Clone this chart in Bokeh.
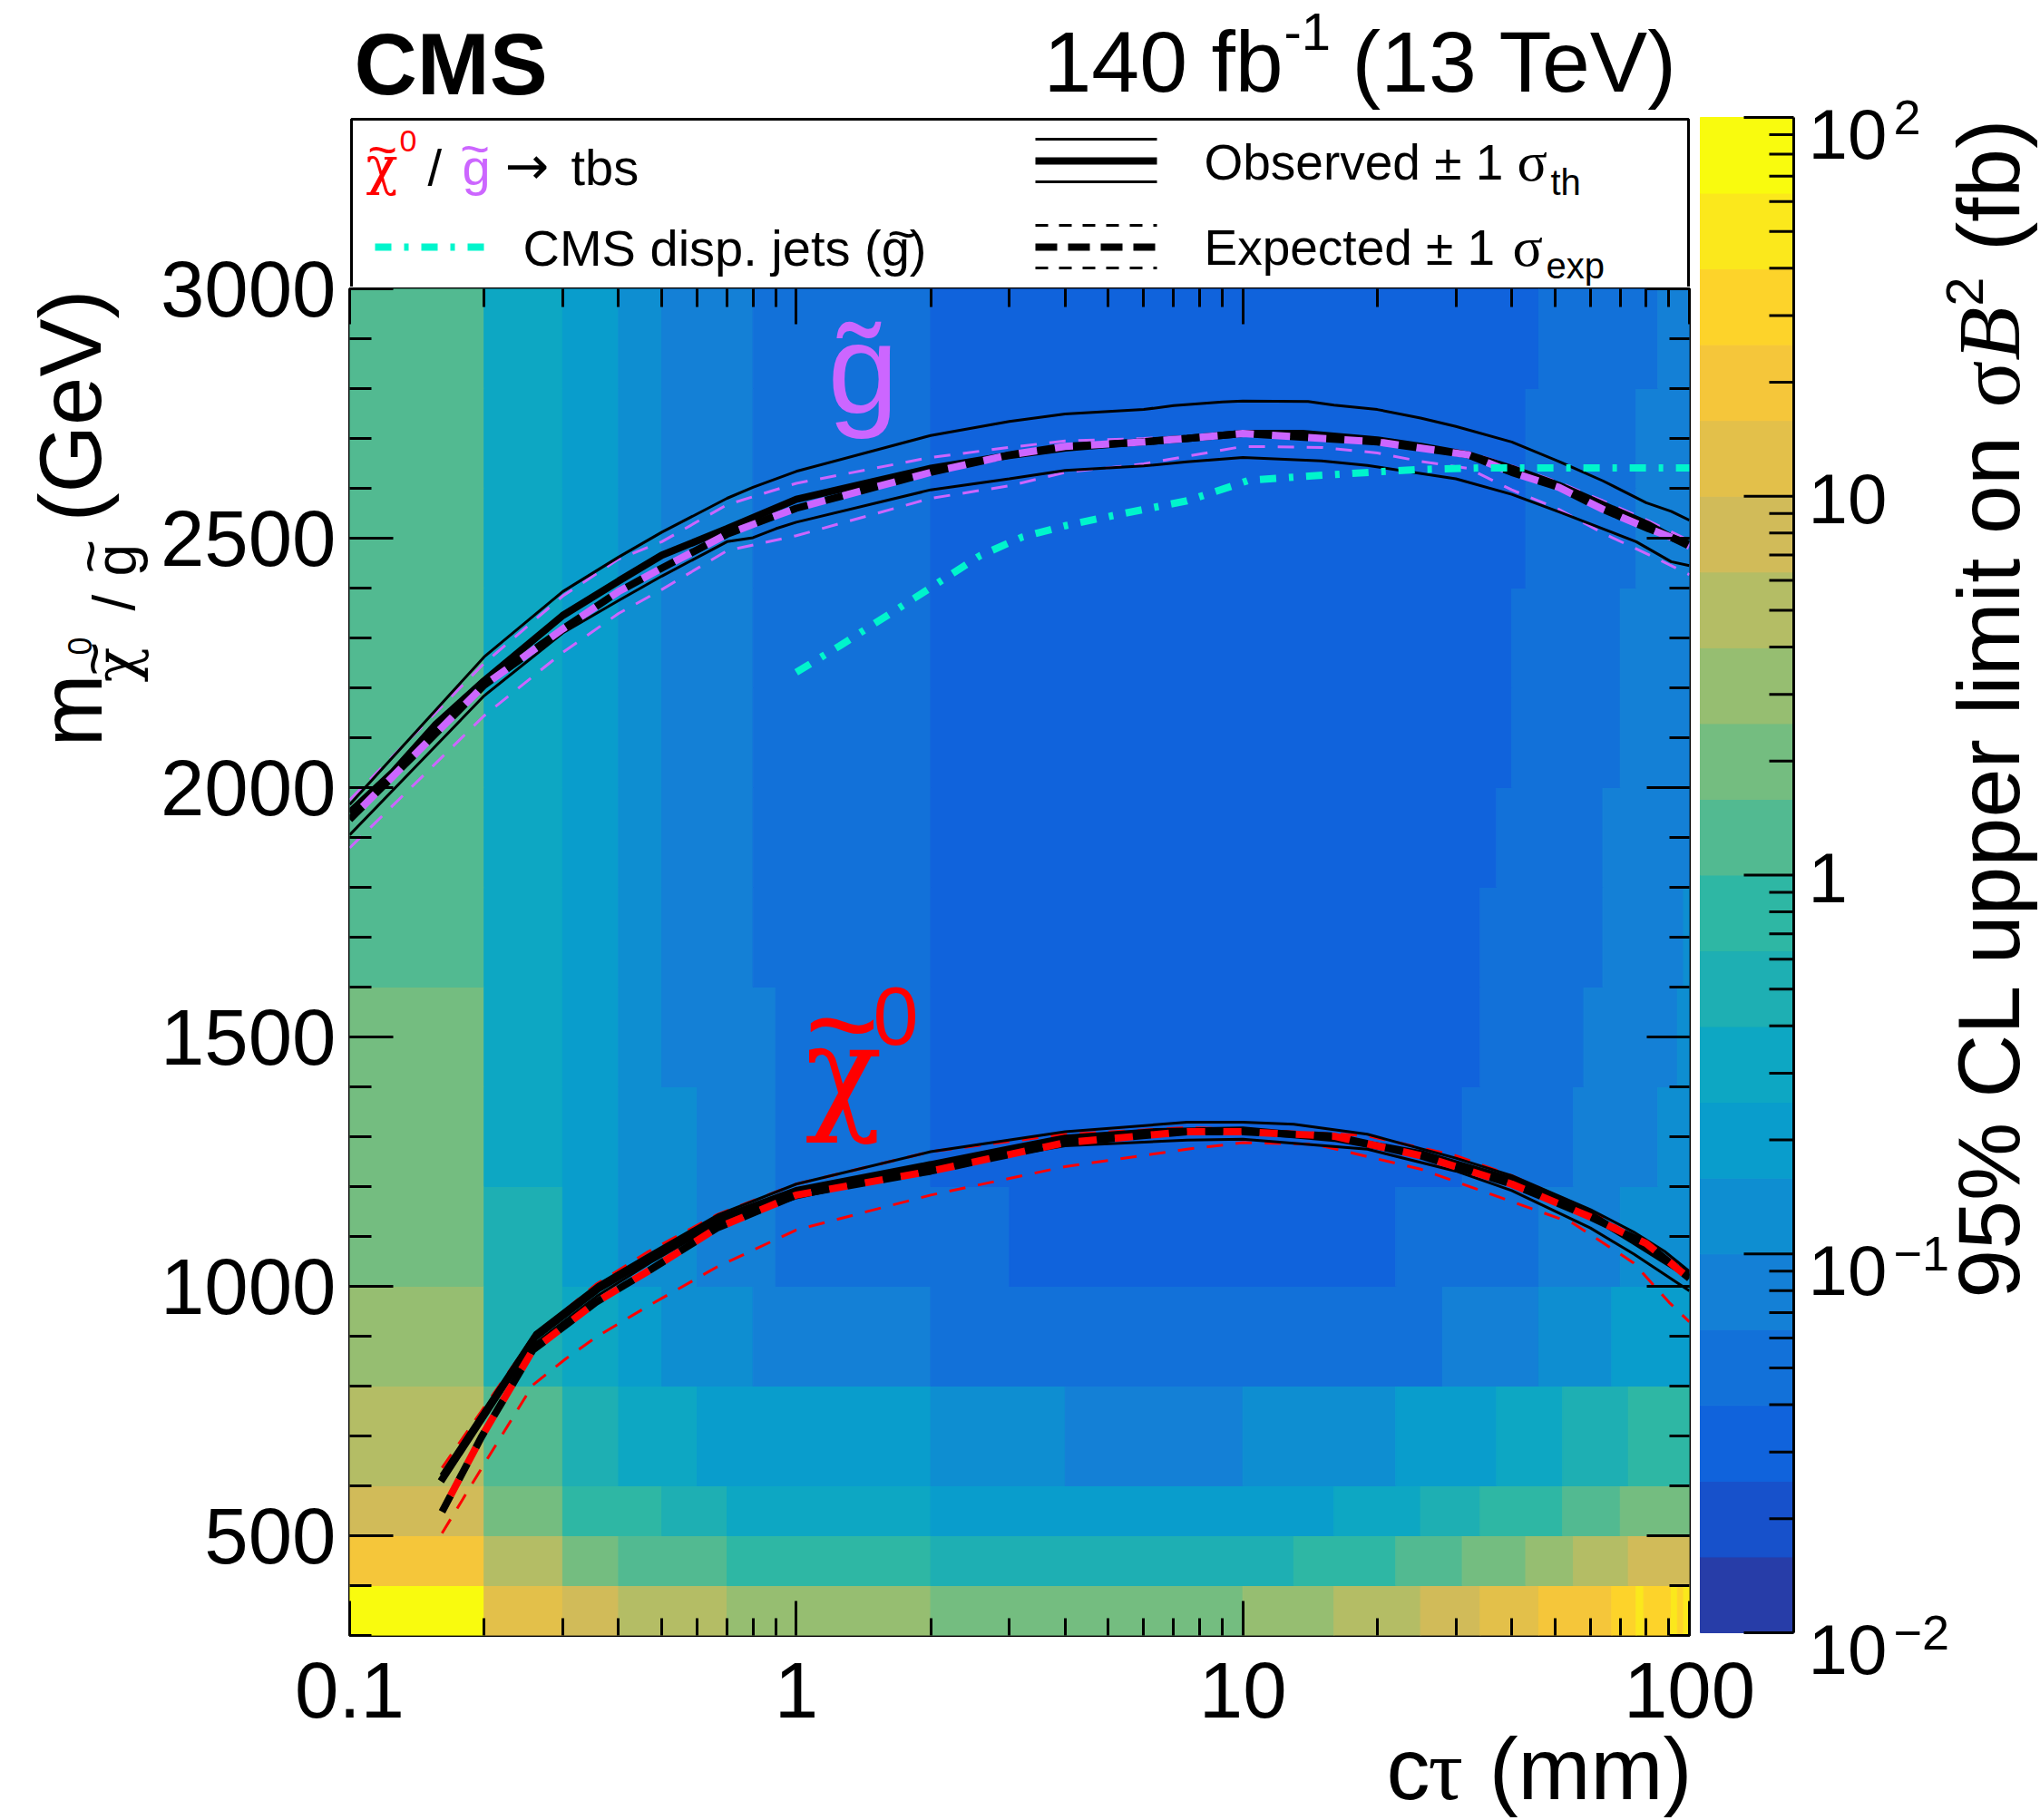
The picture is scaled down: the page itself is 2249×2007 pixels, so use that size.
import math
from bokeh.plotting import figure
from bokeh.models import (Range1d, Label, FixedTicker, SingleIntervalTicker, LinearAxis, LogAxis,
                          ColumnDataSource, LogScale)
from bokeh.layouts import row, column
from bokeh.transform import log_cmap
from bokeh.embed import file_html
from bokeh.resources import INLINE

# ---------------------------------------------------------------- data
mass_edges = [300, 400, 500, 600, 800, 1000, 1200, 1400, 1600, 1800, 2000, 2200, 2400, 2600, 2800, 3000]

# ctau segment boundaries (mm) for each mass row, bottom to top
ctau_breaks = [
    [0.1, 0.2, 0.3, 0.4, 0.7, 2, 10, 16, 25, 34, 46, 67, 76, 79, 91, 94, 97, 100],
    [0.1, 0.2, 0.3, 0.4, 0.7, 2, 13, 22, 31, 43, 55, 73, 100],
    [0.1, 0.2, 0.3, 0.5, 0.7, 2, 16, 25, 34, 52, 70, 100],
    [0.1, 0.2, 0.3, 0.4, 0.6, 2, 4, 10, 22, 37, 52, 73, 100],
    [0.1, 0.2, 0.3, 0.4, 0.5, 0.8, 2, 28, 46, 67, 100],
    [0.1, 0.2, 0.3, 0.4, 0.6, 0.9, 3, 22, 46, 70, 100],
    [0.1, 0.2, 0.3, 0.4, 0.6, 0.9, 2, 31, 55, 85, 100],
    [0.1, 0.2, 0.3, 0.4, 0.5, 0.9, 2, 34, 58, 94, 100],
    [0.1, 0.2, 0.3, 0.4, 0.5, 0.8, 2, 34, 64, 97, 100],
    [0.1, 0.2, 0.3, 0.4, 0.5, 0.8, 2, 37, 64, 100],
    [0.1, 0.2, 0.3, 0.4, 0.5, 0.8, 2, 40, 70, 100],
    [0.1, 0.2, 0.3, 0.4, 0.5, 0.8, 2, 40, 70, 100],
    [0.1, 0.2, 0.3, 0.4, 0.5, 0.8, 2, 43, 76, 100],
    [0.1, 0.2, 0.3, 0.4, 0.5, 0.8, 2, 43, 76, 100],
    [0.1, 0.2, 0.3, 0.4, 0.5, 0.8, 2, 46, 85, 100],
]
# 95% CL upper limit on sigma*B^2 (fb) in each segment
limits_fb = [
    [79, 13, 7.9, 5.0, 3.2, 2.0, 3.2, 5.0, 7.9, 13, 20, 32, 50, 32, 50, 32, 50],
    [20, 5.0, 2.0, 1.3, 0.79, 0.50, 0.79, 1.3, 2.0, 3.2, 5.0, 7.9],
    [7.9, 2.0, 0.79, 0.50, 0.32, 0.20, 0.32, 0.50, 0.79, 1.3, 2.0],
    [5.0, 1.3, 0.50, 0.32, 0.20, 0.13, 0.079, 0.13, 0.20, 0.32, 0.50, 0.79],
    [3.2, 0.50, 0.32, 0.20, 0.13, 0.079, 0.050, 0.079, 0.13, 0.20],
    [2.0, 0.50, 0.20, 0.13, 0.079, 0.050, 0.032, 0.050, 0.079, 0.13],
    [2.0, 0.32, 0.20, 0.13, 0.079, 0.050, 0.032, 0.050, 0.079, 0.13],
    [2.0, 0.32, 0.20, 0.13, 0.079, 0.050, 0.032, 0.050, 0.079, 0.13],
    [1.3, 0.32, 0.20, 0.13, 0.079, 0.050, 0.032, 0.050, 0.079, 0.13],
    [1.3, 0.32, 0.20, 0.13, 0.079, 0.050, 0.032, 0.050, 0.079],
    [1.3, 0.32, 0.20, 0.13, 0.079, 0.050, 0.032, 0.050, 0.079],
    [1.3, 0.32, 0.20, 0.13, 0.079, 0.050, 0.032, 0.050, 0.079],
    [1.3, 0.32, 0.20, 0.13, 0.079, 0.050, 0.032, 0.050, 0.079],
    [1.3, 0.32, 0.20, 0.13, 0.079, 0.050, 0.032, 0.050, 0.079],
    [1.3, 0.32, 0.20, 0.13, 0.079, 0.050, 0.032, 0.050, 0.079],
]

# gluino contours
g_obs_ct = [0.1, 0.125, 0.156, 0.2, 0.3, 0.4, 0.5, 0.7, 1, 2, 3, 4, 5.5, 7.5, 10, 13.6, 20, 25, 32, 40, 51, 64, 81, 91, 100]
g_obs_m = [1950, 2031, 2127, 2214, 2345, 2414, 2466, 2519, 2578, 2640, 2666, 2681, 2691, 2700, 2710, 2710, 2697, 2684, 2667, 2640, 2606, 2567, 2527, 2502, 2488]
g_thup_ct = [0.1, 0.2, 0.3, 0.4, 0.5, 0.7, 0.8, 1, 2, 3, 4, 6, 7, 9, 10, 14, 16, 20, 25, 30, 40, 51, 64, 80, 91, 100]
g_thup_m = [1966, 2262, 2393, 2462, 2512, 2580, 2602, 2634, 2706, 2734, 2749, 2758, 2766, 2773, 2775, 2774, 2767, 2758, 2741, 2724, 2693, 2654, 2615, 2571, 2554, 2536]
g_thdn_ct = [0.1, 0.2, 0.3, 0.4, 0.5, 0.7, 0.8, 0.9, 1, 2, 3, 4, 6, 7.5, 10, 15, 19, 30, 40, 51, 64, 76, 91, 100]
g_thdn_m = [1905, 2184, 2310, 2375, 2424, 2493, 2501, 2519, 2532, 2597, 2619, 2636, 2645, 2653, 2662, 2655, 2646, 2619, 2588, 2553, 2519, 2493, 2453, 2445]
g_exp_ct = [0.1, 0.2, 0.3, 0.4, 0.5, 0.7, 0.9, 1, 2, 3, 4, 6, 7.5, 10, 20, 32, 40, 51, 64, 81, 91, 100]
g_exp_m = [1936, 2205, 2318, 2393, 2440, 2508, 2545, 2560, 2632, 2667, 2684, 2693, 2700, 2710, 2693, 2667, 2632, 2602, 2558, 2519, 2502, 2484]
g_exup_ct = [0.1, 0.2, 0.3, 0.4, 0.5, 0.7, 1, 2, 3, 4, 6, 7.5, 10, 20, 32, 40, 51, 64, 81, 100]
g_exup_m = [1975, 2249, 2384, 2458, 2493, 2567, 2610, 2662, 2682, 2695, 2700, 2704, 2712, 2700, 2672, 2645, 2612, 2575, 2535, 2495]
g_exdn_ct = [0.1, 0.2, 0.3, 0.4, 0.5, 0.7, 1, 2, 3, 4, 6, 10, 15, 20, 25, 32, 40, 51, 64, 81, 100]
g_exdn_m = [1879, 2144, 2271, 2349, 2397, 2475, 2505, 2580, 2605, 2632, 2649, 2684, 2682, 2671, 2654, 2640, 2597, 2558, 2510, 2467, 2427]

# neutralino contours
n_obs_ct = [0.16, 0.26, 0.36, 0.47, 0.67, 1, 2, 3, 4, 6.4, 10, 16, 25, 40, 60, 75, 88, 100]
n_obs_m = [609, 898, 995, 1056, 1135, 1192, 1244, 1275, 1297, 1310, 1313, 1297, 1266, 1213, 1144, 1091, 1052, 1021]
n_thup_ct = [0.16, 0.26, 0.36, 0.47, 0.67, 1, 2, 4, 7.5, 10, 13, 19, 30, 40, 60, 75, 88, 100]
n_thup_m = [622, 907, 1004, 1065, 1144, 1205, 1270, 1310, 1329, 1329, 1325, 1305, 1257, 1222, 1154, 1109, 1070, 1030]
n_thdn_ct = [0.167, 0.26, 0.36, 0.47, 0.67, 1, 2, 4, 7.5, 10, 19, 30, 40, 60, 75, 100]
n_thdn_m = [579, 885, 982, 1047, 1126, 1177, 1235, 1282, 1293, 1295, 1275, 1231, 1192, 1117, 1065, 991]
n_exp_ct = [0.161, 0.197, 0.257, 0.356, 0.465, 0.665, 1, 2, 4, 7.5, 10, 16, 25, 40, 60, 80, 100]
n_exp_m = [548, 697, 872, 968, 1030, 1117, 1183, 1231, 1288, 1310, 1310, 1301, 1262, 1205, 1139, 1086, 1016]
n_exup_ct = [0.161, 0.257, 0.356, 0.465, 0.665, 1, 2, 4, 7.5, 10, 19, 30, 40, 60, 100]
n_exup_m = [636, 898, 1004, 1069, 1144, 1205, 1270, 1305, 1318, 1315, 1302, 1262, 1222, 1152, 1030]
n_exdn_ct = [0.161, 0.203, 0.257, 0.305, 0.356, 0.465, 0.665, 1, 2, 4, 7.5, 10, 14.5, 25, 40, 55, 75, 90, 100]
n_exdn_m = [505, 653, 802, 855, 898, 960, 1039, 1113, 1183, 1240, 1275, 1288, 1285, 1235, 1170, 1126, 1047, 968, 929]

# CMS displaced jets (gluino)
disp_ct = [1.0, 1.25, 1.84, 2.58, 3.2, 4.0, 5.1, 7.5, 9.5, 10.3, 14.3, 20, 25, 34, 100]
disp_m = [2231, 2284, 2380, 2465, 2502, 2525, 2545, 2575, 2605, 2616, 2625, 2633, 2638, 2641, 2641]

# tick labels
x_major = [0.1, 1, 10, 100]
x_tick_labels = ["0.1", "1", "10", "100"]
y_major = [500, 1000, 1500, 2000, 2500, 3000]
y_tick_labels = ["500", "1000", "1500", "2000", "2500", "3000"]
cb_major = [0.01, 0.1, 1, 10, 100]
cb_base = ["10", "10", "1", "10", "10"]
cb_sup = ["\u22122", "\u22121", "", "", "2"]

# ---------------------------------------------------------------- style
SANS = "Liberation Sans"
SERIF = "Liberation Serif"
GREEK = "DejaVu Serif"
MAGENTA = "#cc66ff"
RED = "#ff0000"
CYAN = "#00f5cc"
K = {SANS: 0.3465, SERIF: 0.3375, GREEK: 0.346, "DejaVu Sans": 0.36}  # baseline -> middle (em)

# ROOT kBird palette, 20 contour levels
_st = [0.0, 0.125, 0.25, 0.375, 0.5, 0.625, 0.75, 0.875, 1.0]
_r = [0.2082, 0.0592, 0.0780, 0.0232, 0.1802, 0.5301, 0.8186, 0.9956, 0.9764]
_g = [0.1664, 0.3599, 0.5041, 0.6419, 0.7178, 0.7492, 0.7328, 0.7862, 0.9832]
_b = [0.5293, 0.8684, 0.8385, 0.7914, 0.6425, 0.4662, 0.3499, 0.1968, 0.0539]


def bird(f):
    for j in range(len(_st) - 1):
        if f <= _st[j + 1] + 1e-12:
            t = (f - _st[j]) / (_st[j + 1] - _st[j])
            c = [a[j] + (a[j + 1] - a[j]) * t for a in (_r, _g, _b)]
            return "#%02x%02x%02x" % tuple(int(round(255 * v)) for v in c)
    return "#f9fb0e"


NLEV = 20
palette = [bird(int((i + 0.99) * 255 / NLEV) / 254.0) for i in range(NLEV)]

# page geometry (pixels)
PW, PH = 2249, 2007
LEFT_W = 382               # left strip (y labels)
MID_R = 1866               # right edge of header / main canvas
CB_R = 1980                # right edge of colour-bar strip
HEAD_H = 316
BOT_Y = 1806               # top of bottom strip
FL, FR, FT, FB = 385, 1862, 318, 1803
CBL, CBR, CBT, CBB = 1874, 1977, 129, 1800
PPG = (FB - FT) / (3000 - 300)
DEC = (FR - FL) / 3.0
CDEC = (CBB - CBT) / 4.0
HALF_PI = math.pi / 2
TICK_FS = 87


def canvas(x0, y0, x1, y1):
    """figure whose frame is the whole canvas, data coords = page pixels"""
    f = figure(width=x1 - x0, height=y1 - y0, x_range=Range1d(x0, x1), y_range=Range1d(y1, y0),
               min_border=0, toolbar_location=None, output_backend="svg",
               x_axis_location=None, y_axis_location=None)
    f.frame_align = False
    f.outline_line_color = None
    f.xgrid.visible = False
    f.ygrid.visible = False
    return f


def label(**kw):
    kw.setdefault("text_color", "black")
    kw.setdefault("text_font", SANS)
    return Label(**kw)


def htext(fig, x, yb, text, size, color="black", align="left", font=SANS, style="normal"):
    fig.add_layout(label(x=x, y=yb - K[font] * size, text=text, text_font=font,
                         text_font_size="%dpx" % size, text_color=color, text_align=align,
                         text_baseline="middle", text_font_style=style))


def vtext(fig, xb, y, text, size, color="black", align="left", font=SANS, style="normal"):
    fig.add_layout(label(x=xb - K[font] * size, y=y, text=text, text_font=font,
                         text_font_size="%dpx" % size, text_color=color, text_align=align,
                         text_baseline="middle", text_font_style=style, angle=HALF_PI))


def style_axis(ax, major_in, minor_in):
    ax.major_tick_in = major_in
    ax.major_tick_out = 0
    ax.minor_tick_in = minor_in
    ax.minor_tick_out = 0
    ax.major_tick_line_width = 3
    ax.minor_tick_line_width = 3
    ax.major_tick_line_color = "black"
    ax.minor_tick_line_color = "black"
    ax.axis_line_color = None
    ax.major_label_text_font_size = "1px"
    ax.major_label_text_alpha = 0
    ax.major_label_standoff = 0


# ---------------------------------------------------------------- main plot
main = figure(width=MID_R - LEFT_W, height=BOT_Y - HEAD_H, x_axis_type="log",
              x_range=Range1d(0.1, 100), y_range=Range1d(300, 3000),
              min_border_left=FL - LEFT_W, min_border_right=MID_R - FR,
              min_border_top=FT - HEAD_H, min_border_bottom=BOT_Y - FB,
              toolbar_location=None, output_backend="svg",
              x_axis_location=None, y_axis_location=None)
main.frame_align = False
main.outline_line_color = "black"
main.outline_line_width = 3
main.xgrid.visible = False
main.ygrid.visible = False

left, right, bottom, top, val = [], [], [], [], []
for r_i in range(len(mass_edges) - 1):
    br = ctau_breaks[r_i]
    for s_i, v in enumerate(limits_fb[r_i]):
        left.append(br[s_i])
        right.append(br[s_i + 1])
        bottom.append(mass_edges[r_i])
        top.append(mass_edges[r_i + 1])
        val.append(v)
hsrc = ColumnDataSource(dict(left=left, right=right, bottom=bottom, top=top, limit=val))
cmap = log_cmap("limit", palette, 0.01, 100)
main.quad(left="left", right="right", bottom="bottom", top="top", source=hsrc,
          fill_color=cmap, line_color=cmap, line_width=1)

THICK, THIN = 8, 3
# gluino
main.line(g_exdn_ct, g_exdn_m, line_color=MAGENTA, line_width=THIN, line_dash="18 14")
main.line(g_exup_ct, g_exup_m, line_color=MAGENTA, line_width=THIN, line_dash="18 14")
main.line(g_thup_ct, g_thup_m, line_color="black", line_width=THIN)
main.line(g_thdn_ct, g_thdn_m, line_color="black", line_width=THIN)
main.line(g_obs_ct, g_obs_m, line_color="black", line_width=THICK)
main.line(g_exp_ct, g_exp_m, line_color="black", line_width=THICK, line_dash="20 20")
main.line(g_exp_ct, g_exp_m, line_color=MAGENTA, line_width=THICK, line_dash="20 20", line_dash_offset=20)
# neutralino
main.line(n_exdn_ct, n_exdn_m, line_color=RED, line_width=THIN, line_dash="18 14")
main.line(n_exup_ct, n_exup_m, line_color=RED, line_width=THIN, line_dash="18 14")
main.line(n_thup_ct, n_thup_m, line_color="black", line_width=THIN)
main.line(n_thdn_ct, n_thdn_m, line_color="black", line_width=THIN)
main.line(n_obs_ct, n_obs_m, line_color="black", line_width=THICK)
main.line(n_exp_ct, n_exp_m, line_color="black", line_width=THICK, line_dash="20 20")
main.line(n_exp_ct, n_exp_m, line_color=RED, line_width=THICK, line_dash="20 20", line_dash_offset=20)
# displaced jets
main.line(disp_ct, disp_m, line_color=CYAN, line_width=THICK, line_dash="18 14 5 14")

x_minor = [m * d for d in (0.1, 1, 10) for m in range(2, 10)]
xt = FixedTicker(ticks=x_major, minor_ticks=x_minor)
yt = SingleIntervalTicker(interval=500, num_minor_ticks=5)
for ax, side, a, b in ((LogAxis(ticker=xt), "below", 38, 19), (LogAxis(ticker=xt), "above", 39, 20),
                       (LinearAxis(ticker=yt), "left", 48, 24), (LinearAxis(ticker=yt), "right", 47, 22)):
    style_axis(ax, a, b)
    main.add_layout(ax, side)


def mtext(x, yb, text, size, color, align="left", font=SANS, style="normal"):
    # label placed in page pixels inside the main frame
    main.add_layout(label(x=x - FL, y=FB - yb + K[font] * size, x_units="screen", y_units="screen",
                          text=text, text_font=font, text_font_size="%dpx" % size, text_color=color,
                          text_align=align, text_baseline="middle", text_font_style=style))


mtext(912, 455, "g\u0303", 140, MAGENTA)
mtext(887, 1230, "\u03c7", 140, RED, font=GREEK)
mtext(928, 1178, "~", 140, RED, "center")
mtext(962, 1151, "0", 90, RED)

# ---------------------------------------------------------------- header + legend
head = canvas(LEFT_W, 0, MID_R, HEAD_H)
head.quad(left=[387], right=[1861], top=[131], bottom=[HEAD_H + 3], fill_color="white",
          line_color="black", line_width=3)
htext(head, 390, 103, "CMS", 96, style="bold")
htext(head, 1150, 100, "140 fb", 95)
htext(head, 1415, 55, "-1", 58)
htext(head, 1490, 100, "(13 TeV)", 95)

htext(head, 403, 203, "\u03c7", 58, color=RED, font=GREEK)
htext(head, 421, 183, "~", 56, color=RED, align="center")
htext(head, 440, 167, "0", 34, color=RED)
htext(head, 471, 203, "/", 56)
htext(head, 509, 203, "g", 56, color=MAGENTA)
htext(head, 523, 182, "~", 56, color=MAGENTA, align="center")
htext(head, 556, 203, "\u2192", 58, font="DejaVu Sans")
htext(head, 629, 203, "tbs", 56)

head.line([413, 538], [272, 272], line_color=CYAN, line_width=THICK, line_dash="18 14 5 14")
htext(head, 576, 292, "CMS disp. jets (g)", 56)
htext(head, 994, 276, "~", 56, align="center")

head.line([1141, 1275], [153, 153], line_color="black", line_width=THIN)
head.line([1141, 1275], [177, 177], line_color="black", line_width=THICK)
head.line([1141, 1275], [200, 200], line_color="black", line_width=THIN)
htext(head, 1327, 198, "Observed \u00b1 1", 55)
htext(head, 1672, 198, "\u03c3", 62, font=SERIF)
htext(head, 1709, 214, "th", 40)

head.line([1141, 1275], [248, 248], line_color="black", line_width=THIN, line_dash="14 12")
head.line([1141, 1275], [272, 272], line_color="black", line_width=THICK, line_dash="24 12")
head.line([1141, 1275], [295, 295], line_color="black", line_width=THIN, line_dash="14 12")
htext(head, 1327, 292, "Expected \u00b1 1", 55)
htext(head, 1667, 292, "\u03c3", 62, font=SERIF)
htext(head, 1704, 306, "exp", 40)

# ---------------------------------------------------------------- left strip: y labels + title
leftf = canvas(0, 0, LEFT_W, BOT_Y)
leftf.extra_y_ranges = {"mass": Range1d(300 - (BOT_Y - FB) / PPG, 3000 + FT / PPG)}
for v, t in zip(y_major, y_tick_labels):
    leftf.add_layout(label(x=FL - 15, y=v, y_range_name="mass", text=t,
                           text_font_size="%dpx" % TICK_FS, text_align="right", text_baseline="middle"))
vtext(leftf, 111, 823, "m", 96)
vtext(leftf, 150, 752, "\u03c7", 64, font=GREEK)
vtext(leftf, 126, 726, "~", 64, align="center")
vtext(leftf, 100, 722, "0", 36)
vtext(leftf, 148, 673, "/", 64)
vtext(leftf, 150, 635, "g", 64)
vtext(leftf, 122, 613, "~", 64, align="center")
vtext(leftf, 110, 319, "(GeV)", 96, align="right")

# ---------------------------------------------------------------- colour bar strip
cbar = canvas(MID_R, 0, CB_R, BOT_Y)
cbar.extra_y_ranges = {"lim": Range1d(10 ** (-2 - (BOT_Y - CBB) / CDEC), 10 ** (2 + CBT / CDEC))}
cbar.extra_y_scales = {"lim": LogScale()}
lev_edges = [10 ** (-2 + 4.0 * k / NLEV) for k in range(NLEV + 1)]
cbar.quad(left=CBL, right=CBR, bottom=lev_edges[:-1], top=lev_edges[1:], fill_color=palette,
          line_color=palette, line_width=1, y_range_name="lim")
cb_minor = [m * d for d in (0.01, 0.1, 1, 10) for m in range(2, 10)]
cbar.segment(x0=CBR - 55, x1=CBR, y0=cb_major, y1=cb_major, line_color="black", line_width=3,
             y_range_name="lim")
cbar.segment(x0=CBR - 27, x1=CBR, y0=cb_minor, y1=cb_minor, line_color="black", line_width=3,
             y_range_name="lim")
cbar.segment(x0=[CBR], x1=[CBR], y0=[cb_major[0]], y1=[cb_major[-1]], line_color="black",
             line_width=3, y_range_name="lim")

# ---------------------------------------------------------------- bottom strip: x labels + title
botf = canvas(0, BOT_Y, CB_R, PH)
botf.extra_x_ranges = {"ct": Range1d(10 ** (-1 - FL / DEC), 10 ** (-1 + (CB_R - FL) / DEC))}
botf.extra_x_scales = {"ct": LogScale()}
for v, t in zip(x_major, x_tick_labels):
    botf.add_layout(label(x=v, y=1863, x_range_name="ct", text=t,
                          text_font_size="%dpx" % TICK_FS, text_align="center", text_baseline="middle"))
htext(botf, 1528, 1983, "c", 96)
htext(botf, 1574, 1983, "\u03c4", 96, font=SERIF)
htext(botf, 1865, 1983, "(mm)", 96, align="right")

# ---------------------------------------------------------------- right strip: colour-bar labels + title
rgt = canvas(CB_R, 0, PW, PH)
rgt.extra_y_ranges = {"lim": Range1d(10 ** (-2 - (PH - CBB) / CDEC), 10 ** (2 + CBT / CDEC))}
rgt.extra_y_scales = {"lim": LogScale()}
for v, b, s in zip(cb_major, cb_base, cb_sup):
    rgt.add_layout(label(x=1993, y=v, y_range_name="lim", text=b, text_font_size="78px",
                         text_baseline="middle", y_offset=(-18 if s else -3)))
    if s:
        rgt.add_layout(label(x=2087, y=v, y_range_name="lim", text=s,
                             text_font_size="54px", text_baseline="middle", y_offset=0))

vtext(rgt, 2226, 131, "(fb)", 97, align="right")
vtext(rgt, 2186, 305, "2", 58, align="right")
vtext(rgt, 2226, 338, "B", 97, align="right", font=SERIF, style="italic")
vtext(rgt, 2226, 397, "\u03c3", 97, align="right", font=SERIF)
vtext(rgt, 2226, 450, "95% CL upper limit on ", 97, align="right")

layout = row(column(row(leftf, column(head, main), cbar), botf), rgt)
open("out.html", "w").write(file_html(layout, INLINE))
